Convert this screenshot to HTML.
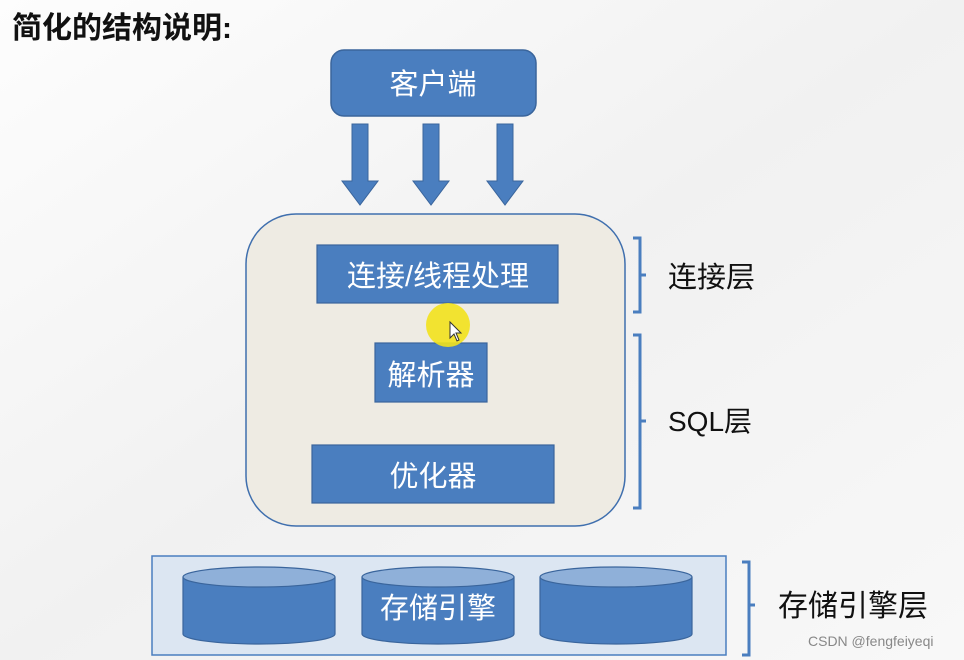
<!DOCTYPE html>
<html><head><meta charset="utf-8"><style>
html,body{margin:0;padding:0;width:964px;height:660px;overflow:hidden;background:#f7f7f7}
svg{display:block}
text{font-family:"Liberation Sans","Noto Sans CJK SC",sans-serif}
</style></head><body>
<svg width="964" height="660" viewBox="0 0 964 660" xmlns="http://www.w3.org/2000/svg">
<defs>
<linearGradient id="bg" x1="0" y1="0" x2="1" y2="1">
<stop offset="0" stop-color="#fdfdfd"/><stop offset="0.5" stop-color="#f1f1f1"/><stop offset="1" stop-color="#f8f8f8"/>
</linearGradient>
</defs>
<rect width="964" height="660" fill="url(#bg)"/>
<text x="12" y="38" font-size="30" font-weight="bold" fill="#111" font-family="'Noto Serif CJK SC','Noto Sans CJK SC',serif">简化的结构说明:</text>

<rect x="331" y="50" width="205" height="66" rx="13" fill="#4a7ebf" stroke="#3a659c" stroke-width="1.5"/>
<text x="433" y="94" font-size="29" fill="#fff" text-anchor="middle">客户端</text>

<g fill="#4a7ebf" stroke="#3a659c" stroke-width="1">
<path d="M352 124 H368 V181 H378 L360 205 L342 181 H352 Z"/>
<path d="M423 124 H439 V181 H449 L431 205 L413 181 H423 Z"/>
<path d="M497 124 H513 V181 H523 L505 205 L487 181 H497 Z"/>
</g>

<rect x="246" y="214" width="379" height="312" rx="50" fill="#eeebe3" stroke="#3f6fae" stroke-width="1.5"/>
<g fill="#4a7ebf" stroke="#3a659c" stroke-width="1.2">
<rect x="317" y="245" width="241" height="58"/>
<rect x="375" y="343" width="112" height="59"/>
<rect x="312" y="445" width="242" height="58"/>
</g>
<text x="438" y="286" font-size="29" fill="#fff" text-anchor="middle">连接/线程处理</text>
<text x="431" y="385" font-size="29" fill="#fff" text-anchor="middle">解析器</text>
<text x="433" y="486" font-size="29" fill="#fff" text-anchor="middle">优化器</text>

<circle cx="448" cy="325" r="22" fill="#f2e21c" opacity="0.9"/>
<path d="M450 322 L450 338 L454 334 L457 341 L459 340 L456 333 L461 333 Z" fill="#fff" stroke="#333" stroke-width="1"/>

<g fill="none" stroke="#4a7ebf" stroke-width="3">
<path d="M633 238 H640 V275 H646 M640 275 V312 H633"/>
<path d="M633 335 H640 V421 H646 M640 421 V508 H633"/>
<path d="M742 562 H749 V605 H755 M749 605 V655 H742"/>
</g>
<text x="668" y="287" font-size="29" fill="#111">连接层</text>
<text x="668" y="431" font-size="28" fill="#111">SQL层</text>

<rect x="152" y="556" width="574" height="99" fill="#dce6f2" stroke="#4a7ebf" stroke-width="1.5"/>
<g stroke="#3a659c" stroke-width="1.2">
<g>
<path d="M183 577 V634 A76 10 0 0 0 335 634 V577" fill="#4a7ebf"/>
<ellipse cx="259" cy="577" rx="76" ry="10" fill="#8fb0d9"/>
</g>
<g>
<path d="M362 577 V634 A76 10 0 0 0 514 634 V577" fill="#4a7ebf"/>
<ellipse cx="438" cy="577" rx="76" ry="10" fill="#8fb0d9"/>
</g>
<g>
<path d="M540 577 V634 A76 10 0 0 0 692 634 V577" fill="#4a7ebf"/>
<ellipse cx="616" cy="577" rx="76" ry="10" fill="#8fb0d9"/>
</g>
</g>
<text x="438" y="618" font-size="29" fill="#fff" text-anchor="middle">存储引擎</text>
<text x="778" y="616" font-size="30" fill="#111">存储引擎层</text>
<text x="808" y="646" font-size="14" fill="#888">CSDN @fengfeiyeqi</text>
</svg>
</body></html>
